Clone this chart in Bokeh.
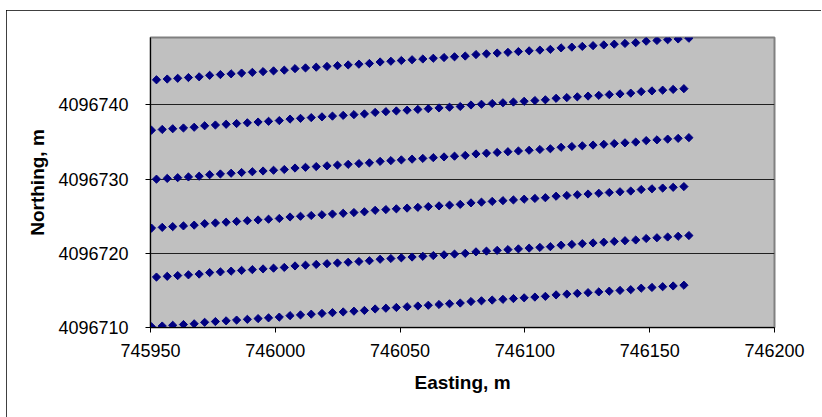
import numpy as np
from bokeh.plotting import figure
from bokeh.models import Range1d, FixedTicker, PrintfTickFormatter
from bokeh.embed import file_html
from bokeh.resources import INLINE

# Easting of the survey points (lines that start a little further east, and lines that start at the axis)
easting_a = [745952.4, 745956.7, 745960.9, 745965.2, 745969.5, 745973.7, 745978.0, 745982.3, 745986.5,
             745990.8, 745995.1, 745999.3, 746003.6, 746007.9, 746012.1, 746016.4, 746020.7, 746024.9,
             746029.2, 746033.5, 746037.7, 746042.0, 746046.3, 746050.5, 746054.8, 746059.1, 746063.3,
             746067.6, 746071.8, 746076.1, 746080.4, 746084.6, 746088.9, 746093.2, 746097.4, 746101.7,
             746106.0, 746110.2, 746114.5, 746118.8, 746123.0, 746127.3, 746131.6, 746135.8, 746140.1,
             746144.4, 746148.6, 746152.9, 746157.2, 746161.4, 746165.7]
easting_b = [745950.4, 745954.7, 745958.9, 745963.2, 745967.5, 745971.7, 745976.0, 745980.3, 745984.5,
             745988.8, 745993.1, 745997.3, 746001.6, 746005.9, 746010.1, 746014.4, 746018.7, 746022.9,
             746027.2, 746031.5, 746035.7, 746040.0, 746044.3, 746048.5, 746052.8, 746057.1, 746061.3,
             746065.6, 746069.8, 746074.1, 746078.4, 746082.6, 746086.9, 746091.2, 746095.4, 746099.7,
             746104.0, 746108.2, 746112.5, 746116.8, 746121.0, 746125.3, 746129.6, 746133.8, 746138.1,
             746142.4, 746146.6, 746150.9, 746155.2, 746159.4, 746163.7]

northing_1 = [4096743.4, 4096743.5, 4096743.6, 4096743.7, 4096743.8, 4096744.0, 4096744.1, 4096744.2, 4096744.3,
              4096744.4, 4096744.5, 4096744.6, 4096744.7, 4096744.9, 4096745.0, 4096745.1, 4096745.2, 4096745.3,
              4096745.4, 4096745.5, 4096745.6, 4096745.8, 4096745.9, 4096746.0, 4096746.1, 4096746.2, 4096746.3,
              4096746.4, 4096746.5, 4096746.6, 4096746.8, 4096746.9, 4096747.0, 4096747.1, 4096747.2, 4096747.3,
              4096747.4, 4096747.5, 4096747.7, 4096747.8, 4096747.9, 4096748.0, 4096748.1, 4096748.2, 4096748.3,
              4096748.4, 4096748.6, 4096748.7, 4096748.8, 4096748.9, 4096749.0]
northing_2 = [4096736.6, 4096736.7, 4096736.8, 4096736.9, 4096737.0, 4096737.2, 4096737.3, 4096737.4, 4096737.5,
              4096737.6, 4096737.7, 4096737.8, 4096737.9, 4096738.1, 4096738.2, 4096738.3, 4096738.4, 4096738.5,
              4096738.6, 4096738.7, 4096738.8, 4096739.0, 4096739.1, 4096739.2, 4096739.3, 4096739.4, 4096739.5,
              4096739.6, 4096739.7, 4096739.8, 4096740.0, 4096740.1, 4096740.2, 4096740.3, 4096740.4, 4096740.5,
              4096740.6, 4096740.7, 4096740.9, 4096741.0, 4096741.1, 4096741.2, 4096741.3, 4096741.4, 4096741.5,
              4096741.6, 4096741.8, 4096741.9, 4096742.0, 4096742.1, 4096742.2]
northing_3 = [4096730.0, 4096730.1, 4096730.2, 4096730.3, 4096730.4, 4096730.6, 4096730.7, 4096730.8, 4096730.9,
              4096731.0, 4096731.1, 4096731.2, 4096731.3, 4096731.5, 4096731.6, 4096731.7, 4096731.8, 4096731.9,
              4096732.0, 4096732.1, 4096732.2, 4096732.4, 4096732.5, 4096732.6, 4096732.7, 4096732.8, 4096732.9,
              4096733.0, 4096733.1, 4096733.2, 4096733.4, 4096733.5, 4096733.6, 4096733.7, 4096733.8, 4096733.9,
              4096734.0, 4096734.1, 4096734.3, 4096734.4, 4096734.5, 4096734.6, 4096734.7, 4096734.8, 4096734.9,
              4096735.0, 4096735.2, 4096735.3, 4096735.4, 4096735.5, 4096735.6]
northing_4 = [4096723.4, 4096723.5, 4096723.6, 4096723.7, 4096723.8, 4096724.0, 4096724.1, 4096724.2, 4096724.3,
              4096724.4, 4096724.5, 4096724.6, 4096724.7, 4096724.9, 4096725.0, 4096725.1, 4096725.2, 4096725.3,
              4096725.4, 4096725.5, 4096725.6, 4096725.8, 4096725.9, 4096726.0, 4096726.1, 4096726.2, 4096726.3,
              4096726.4, 4096726.5, 4096726.6, 4096726.8, 4096726.9, 4096727.0, 4096727.1, 4096727.2, 4096727.3,
              4096727.4, 4096727.5, 4096727.7, 4096727.8, 4096727.9, 4096728.0, 4096728.1, 4096728.2, 4096728.3,
              4096728.4, 4096728.6, 4096728.7, 4096728.8, 4096728.9, 4096729.0]
northing_5 = [4096716.8, 4096716.9, 4096717.0, 4096717.1, 4096717.2, 4096717.4, 4096717.5, 4096717.6, 4096717.7,
              4096717.8, 4096717.9, 4096718.0, 4096718.1, 4096718.3, 4096718.4, 4096718.5, 4096718.6, 4096718.7,
              4096718.8, 4096718.9, 4096719.0, 4096719.2, 4096719.3, 4096719.4, 4096719.5, 4096719.6, 4096719.7,
              4096719.8, 4096719.9, 4096720.0, 4096720.2, 4096720.3, 4096720.4, 4096720.5, 4096720.6, 4096720.7,
              4096720.8, 4096720.9, 4096721.1, 4096721.2, 4096721.3, 4096721.4, 4096721.5, 4096721.6, 4096721.7,
              4096721.8, 4096722.0, 4096722.1, 4096722.2, 4096722.3, 4096722.4]
northing_6 = [4096710.1, 4096710.2, 4096710.3, 4096710.4, 4096710.5, 4096710.7, 4096710.8, 4096710.9, 4096711.0,
              4096711.1, 4096711.2, 4096711.3, 4096711.4, 4096711.6, 4096711.7, 4096711.8, 4096711.9, 4096712.0,
              4096712.1, 4096712.2, 4096712.3, 4096712.5, 4096712.6, 4096712.7, 4096712.8, 4096712.9, 4096713.0,
              4096713.1, 4096713.2, 4096713.3, 4096713.5, 4096713.6, 4096713.7, 4096713.8, 4096713.9, 4096714.0,
              4096714.1, 4096714.2, 4096714.4, 4096714.5, 4096714.6, 4096714.7, 4096714.8, 4096714.9, 4096715.0,
              4096715.1, 4096715.3, 4096715.4, 4096715.5, 4096715.6, 4096715.7]

x_ticks = [745950, 746000, 746050, 746100, 746150, 746200]
y_ticks = [4096710, 4096720, 4096730, 4096740]

x_title = "Easting, m"
y_title = "Northing, m"

lines = [
    (easting_a, northing_1),
    (easting_b, northing_2),
    (easting_a, northing_3),
    (easting_b, northing_4),
    (easting_a, northing_5),
    (easting_b, northing_6),
]

FONT = "Liberation Sans"

p = figure(
    frame_width=624, frame_height=290,
    min_border_left=144, min_border_right=47, min_border_top=27, min_border_bottom=92,
    x_range=Range1d(745950, 746200), y_range=Range1d(4096710, 4096749.1),
    output_backend="svg", toolbar_location=None,
)
p.styles = {"margin-left": "6px", "margin-top": "10px",
            "outline": "2px solid #000000", "outline-offset": "-2px"}

p.background_fill_color = "#C0C0C0"
p.border_fill_color = "#FFFFFF"
p.outline_line_color = "#808080"
p.outline_line_width = 2

p.xgrid.visible = False
p.ygrid.ticker = FixedTicker(ticks=y_ticks)
p.ygrid.grid_line_color = "#202020"
p.ygrid.grid_line_width = 1

for ax, ticks in ((p.xaxis, x_ticks), (p.yaxis, y_ticks)):
    ax.ticker = FixedTicker(ticks=ticks)
    ax.formatter = PrintfTickFormatter(format="%d")
    ax.axis_line_color = "#000000"
    ax.axis_line_width = 1
    ax.major_tick_line_color = "#000000"
    ax.major_tick_in = 0
    ax.major_tick_out = 5
    ax.minor_tick_line_color = None
    ax.major_label_text_font = FONT
    ax.major_label_text_font_size = "18px"
    ax.major_label_text_color = "#000000"
    ax.axis_label_text_font = FONT
    ax.axis_label_text_font_size = "19px"
    ax.axis_label_text_font_style = "bold"
    ax.axis_label_text_color = "#000000"

p.xaxis.axis_label = x_title
p.yaxis.axis_label = y_title
p.xaxis.major_label_standoff = 11
p.yaxis.major_label_standoff = 17
p.xaxis.axis_label_standoff = 12
p.yaxis.axis_label_standoff = 7

for ex, no in lines:
    p.scatter(ex, no, marker="square", angle=np.pi / 4, size=5.8,
              fill_color="#000080", line_color="#000080", line_width=1)

open("out.html", "w").write(file_html(p, INLINE))
